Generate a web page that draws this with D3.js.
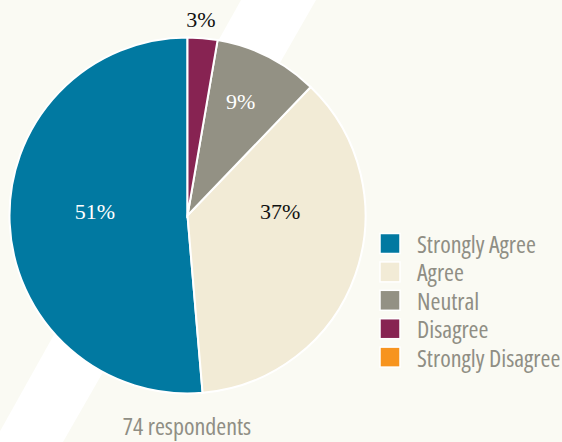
<!DOCTYPE html>
<html lang="en">
<head>
  <meta charset="UTF-8">
  <title>Survey responses</title>
  <style>
    body { margin: 0; overflow: hidden; background: #fafaf3; }
    svg { display: block; }
    .slice-label { font-family: "Liberation Serif", serif; font-size: 22px; }
    .legend text, .note {
      font-family: "Open Sans", sans-serif;
      font-stretch: 75%;
      font-weight: 500;
      font-size: 24px;
      fill: #8f8e84;
    }
  </style>
</head>
<body>
  <svg width="562" height="442"></svg>
  <script src="https://d3js.org/d3.v7.min.js"></script>
  <script>
    // data, in legend order
    const categories = ["Strongly Agree", "Agree", "Neutral", "Disagree", "Strongly Disagree"];
    const respondents = [38, 27, 7, 2, 0];
    const percentLabels = ["51%", "37%", "9%", "3%", ""];
    const colors = ["#0179a1", "#f2ebd6", "#939184", "#872352", "#f7941e"];
    const total = d3.sum(respondents);

    const svg = d3.select("svg");
    const width = 562, height = 442;

    // pale diagonal band behind everything
    svg.append("rect").attr("width", width).attr("height", height).attr("fill", "#fafaf3");
    svg.append("path")
      .attr("d", "M241,0 L316,0 L63," + height + " L-6," + height + " Z")
      .attr("fill", "#ffffff");

    const cx = 187.5, cy = 215.5, R = 178;
    const g = svg.append("g").attr("transform", `translate(${cx},${cy})`);

    const color = d3.scaleOrdinal().domain(categories).range(colors);

    // first slice runs counter-clockwise from 12 o'clock
    const pie = d3.pie().sort(null).value(d => d.v).startAngle(2 * Math.PI).endAngle(0);
    const rows = categories.map((c, i) => ({ c: c, v: respondents[i], label: percentLabels[i] }));
    const arcs = pie(rows);
    const arc = d3.arc().innerRadius(0).outerRadius(R);

    g.selectAll("path.slice")
      .data(arcs.filter(d => d.data.v > 0))
      .join("path")
      .attr("class", "slice")
      .attr("d", arc)
      .attr("fill", d => color(d.data.c))
      .attr("stroke", "#ffffff")
      .attr("stroke-width", 2);

    // labels: big slices sit level with the centre, small ones at their centroid
    function labelPos(d) {
      const share = d.data.v / total;
      const mid = (d.startAngle + d.endAngle) / 2;
      if (share > 0.3) {
        return [Math.sign(Math.sin(mid)) * R * 0.52, -4];
      }
      const r = share < 0.05 ? R * 1.09 : R * 0.7;
      return [Math.sin(mid) * r - 3, -Math.cos(mid) * r - 3];
    }

    g.selectAll("text.slice-label")
      .data(arcs.filter(d => d.data.v > 0))
      .join("text")
      .attr("class", "slice-label")
      .attr("text-anchor", "middle")
      .attr("dy", "0.35em")
      .attr("transform", d => `translate(${labelPos(d)})`)
      .attr("fill", d => {
        const share = d.data.v / total;
        if (share < 0.05) return "#111";
        return d.data.c === "Agree" ? "#111" : "#ffffff";
      })
      .text(d => d.data.label);

    // legend
    const legend = svg.append("g").attr("class", "legend").attr("transform", "translate(380,233.5)");
    const step = 28.4;
    const item = legend.selectAll("g")
      .data(categories)
      .join("g")
      .attr("transform", (d, i) => `translate(0,${i * step})`);
    item.append("rect")
      .attr("width", 20).attr("height", 20)
      .attr("fill", d => color(d))
      .attr("stroke", "#ffffff").attr("stroke-width", 1.5);
    item.append("text")
      .attr("x", 37).attr("y", 19.5)
      .text(d => d);

    svg.append("text")
      .attr("class", "note")
      .attr("x", 187).attr("y", 435)
      .attr("text-anchor", "middle")
      .text(total + " respondents");
  </script>
</body>
</html>
